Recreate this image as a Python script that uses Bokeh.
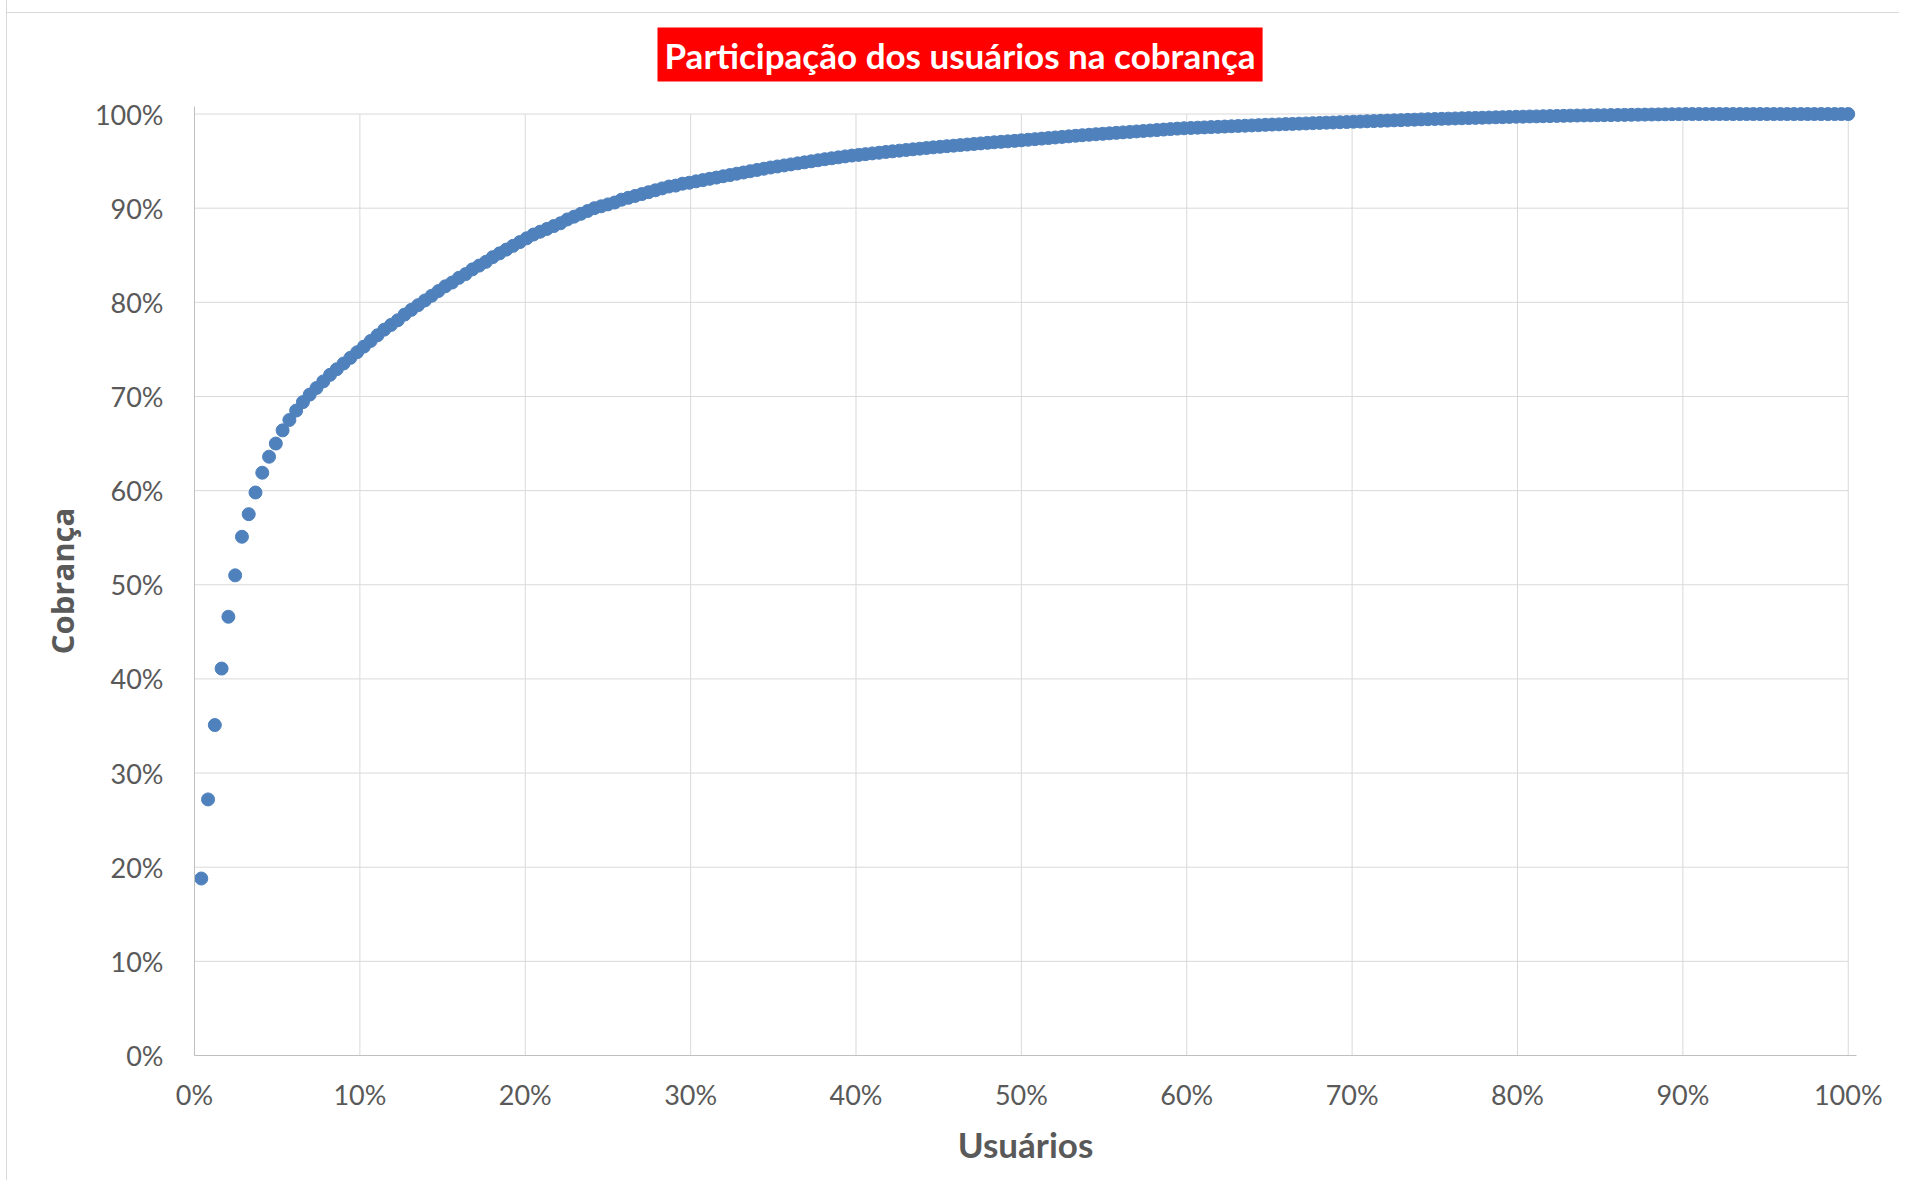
from bokeh.plotting import figure
from bokeh.models import Range1d, FixedTicker, NumeralTickFormatter
from bokeh.embed import file_html
from bokeh.resources import INLINE

# ---- data -------------------------------------------------------------
title_text = "Participação dos usuários na cobrança"
x_label = "Usuários"
y_label = "Cobrança"

# cumulative share of billing (%) for users ranked 1..N
cobranca_pct = [
    18.8, 27.2, 35.1, 41.1, 46.6, 51.0, 55.1, 57.5, 59.8, 61.9, 63.6, 65.0, 66.4, 67.5,
    68.5, 69.4, 70.2, 70.9, 71.6, 72.3, 72.9, 73.5, 74.1, 74.7,
    75.3, 75.9, 76.5, 77.1, 77.6, 78.1, 78.7, 79.2, 79.7, 80.2,
    80.7, 81.2, 81.7, 82.1, 82.6, 83.0, 83.5, 83.9, 84.3, 84.8,
    85.2, 85.6, 86.0, 86.4, 86.8,
    87.2, 87.5, 87.8, 88.1, 88.4, 88.8, 89.1, 89.4, 89.7, 90.0,
    90.2, 90.4, 90.6, 90.9, 91.1, 91.3, 91.5, 91.7, 91.9, 92.1,
    92.3, 92.4, 92.6, 92.7,
    92.85, 92.98, 93.12, 93.25, 93.39, 93.52, 93.66, 93.79, 93.93, 94.06, 94.19, 94.32,
    94.43, 94.54, 94.65, 94.76, 94.87, 94.98, 95.09, 95.20, 95.30, 95.40, 95.50, 95.59,
    95.66, 95.74, 95.82, 95.89, 95.97, 96.04, 96.11, 96.18, 96.25, 96.32, 96.39, 96.46,
    96.52, 96.58, 96.64, 96.70, 96.76, 96.82, 96.88, 96.94, 97.00, 97.05, 97.10, 97.15,
    97.21, 97.27, 97.33, 97.39, 97.45, 97.51, 97.57, 97.63, 97.69, 97.75, 97.80, 97.85,
    97.90, 97.95, 98.00, 98.05, 98.10, 98.15, 98.20, 98.25, 98.30, 98.35, 98.40, 98.45,
    98.49, 98.52, 98.55, 98.58, 98.61, 98.64, 98.67, 98.70, 98.73, 98.76, 98.79, 98.82, 98.85,
    98.88, 98.90, 98.93, 98.95, 98.98, 99.00, 99.03, 99.05, 99.08, 99.10, 99.13, 99.15,
    99.18, 99.20, 99.23, 99.25, 99.28, 99.30, 99.33, 99.35, 99.38, 99.40, 99.43, 99.45,
    99.47, 99.49, 99.51, 99.53, 99.55, 99.57, 99.59, 99.61, 99.63, 99.65, 99.67, 99.69,
    99.71, 99.72, 99.74, 99.75, 99.77, 99.78, 99.80, 99.81, 99.83, 99.84, 99.85, 99.86,
    99.87, 99.88, 99.89, 99.90, 99.91, 99.92, 99.93, 99.94, 99.95, 99.96, 99.97, 99.98, 99.99,
    100.0, 100.0, 100.0, 100.0, 100.0, 100.0, 100.0, 100.0, 100.0, 100.0,
    100.0, 100.0, 100.0, 100.0, 100.0, 100.0, 100.0, 100.0, 100.0, 100.0,
    100.0, 100.0, 100.0, 100.0, 100.0,
]
n_users = len(cobranca_pct)
user_rank = list(range(1, n_users + 1))

x_ticks = [0.0, 0.1, 0.2, 0.3, 0.4, 0.5, 0.6, 0.7, 0.8, 0.9, 1.0]
y_ticks = [0.0, 0.1, 0.2, 0.3, 0.4, 0.5, 0.6, 0.7, 0.8, 0.9, 1.0]

xs = [r / n_users for r in user_rank]
ys = [v / 100.0 for v in cobranca_pct]

# ---- figure -----------------------------------------------------------
GRID = "#d9d9d9"
TXT = "#595959"

p = figure(width=1893, height=1180, output_backend="svg", toolbar_location=None,
           x_range=Range1d(0, 1.005), y_range=Range1d(0, 1.008),
           min_border_left=187, min_border_right=44, min_border_top=106,
           min_border_bottom=125)
p.outline_line_color = None
p.xgrid.visible = False
p.ygrid.visible = False
p.background_fill_color = "white"
p.border_fill_color = "white"
p.border_fill_alpha = 0.0
p.styles = {
    "border-left": "1px solid #d9d9d9",
    "margin-left": "6px",
    "margin-top": "0px",
    "background": "linear-gradient(#d9d9d9, #d9d9d9) 0px 12px / 100% 1px no-repeat",
}

# title: white bold text on a red box
p.title.text = title_text
p.title.align = "left"
p.title.vertical_align = "bottom"
p.title.offset = 463
p.title.standoff = 50
p.title.text_color = "white"
p.title.text_font = "Lato"
p.title.text_font_style = "bold"
p.title.text_font_size = "35px"
p.title.background_fill_color = "#FF0000"
p.title.padding = (7, 6)

# grid lines from tick arrays
p.segment(x0=x_ticks, y0=[0.0] * len(x_ticks), x1=x_ticks, y1=[1.0] * len(x_ticks),
          line_color=GRID, line_width=1)
p.segment(x0=[0.0] * len(y_ticks), y0=y_ticks, x1=[1.0] * len(y_ticks), y1=y_ticks,
          line_color=GRID, line_width=1)

p.scatter(xs, ys, size=13, marker="circle", fill_color="#4F81BD",
          line_color="#4F81BD", line_width=1)

for ax, ticks in ((p.xaxis[0], x_ticks), (p.yaxis[0], y_ticks)):
    ax.ticker = FixedTicker(ticks=ticks)
    ax.formatter = NumeralTickFormatter(format="0%")
    ax.major_tick_line_color = None
    ax.minor_tick_line_color = None
    ax.major_tick_in = 0
    ax.major_tick_out = 0
    ax.minor_tick_out = 0
    ax.axis_line_color = "#bfbfbf"
    ax.axis_line_width = 1
    ax.major_label_text_font = "Lato"
    ax.major_label_text_font_size = "27px"
    ax.major_label_text_color = TXT
    ax.axis_label_text_color = TXT
    ax.axis_label_text_font_style = "bold"

p.xaxis[0].axis_label = x_label
p.xaxis[0].axis_label_text_font = "Lato"
p.xaxis[0].axis_label_text_font_size = "35px"
p.xaxis[0].major_label_standoff = 22
p.xaxis[0].axis_label_standoff = 9

p.yaxis[0].axis_label = y_label
p.yaxis[0].axis_label_text_font = "Open Sans"
p.yaxis[0].axis_label_text_font_size = "31px"
p.yaxis[0].major_label_standoff = 31
p.yaxis[0].axis_label_standoff = 9

open("out.html", "w").write(file_html(p, INLINE))
